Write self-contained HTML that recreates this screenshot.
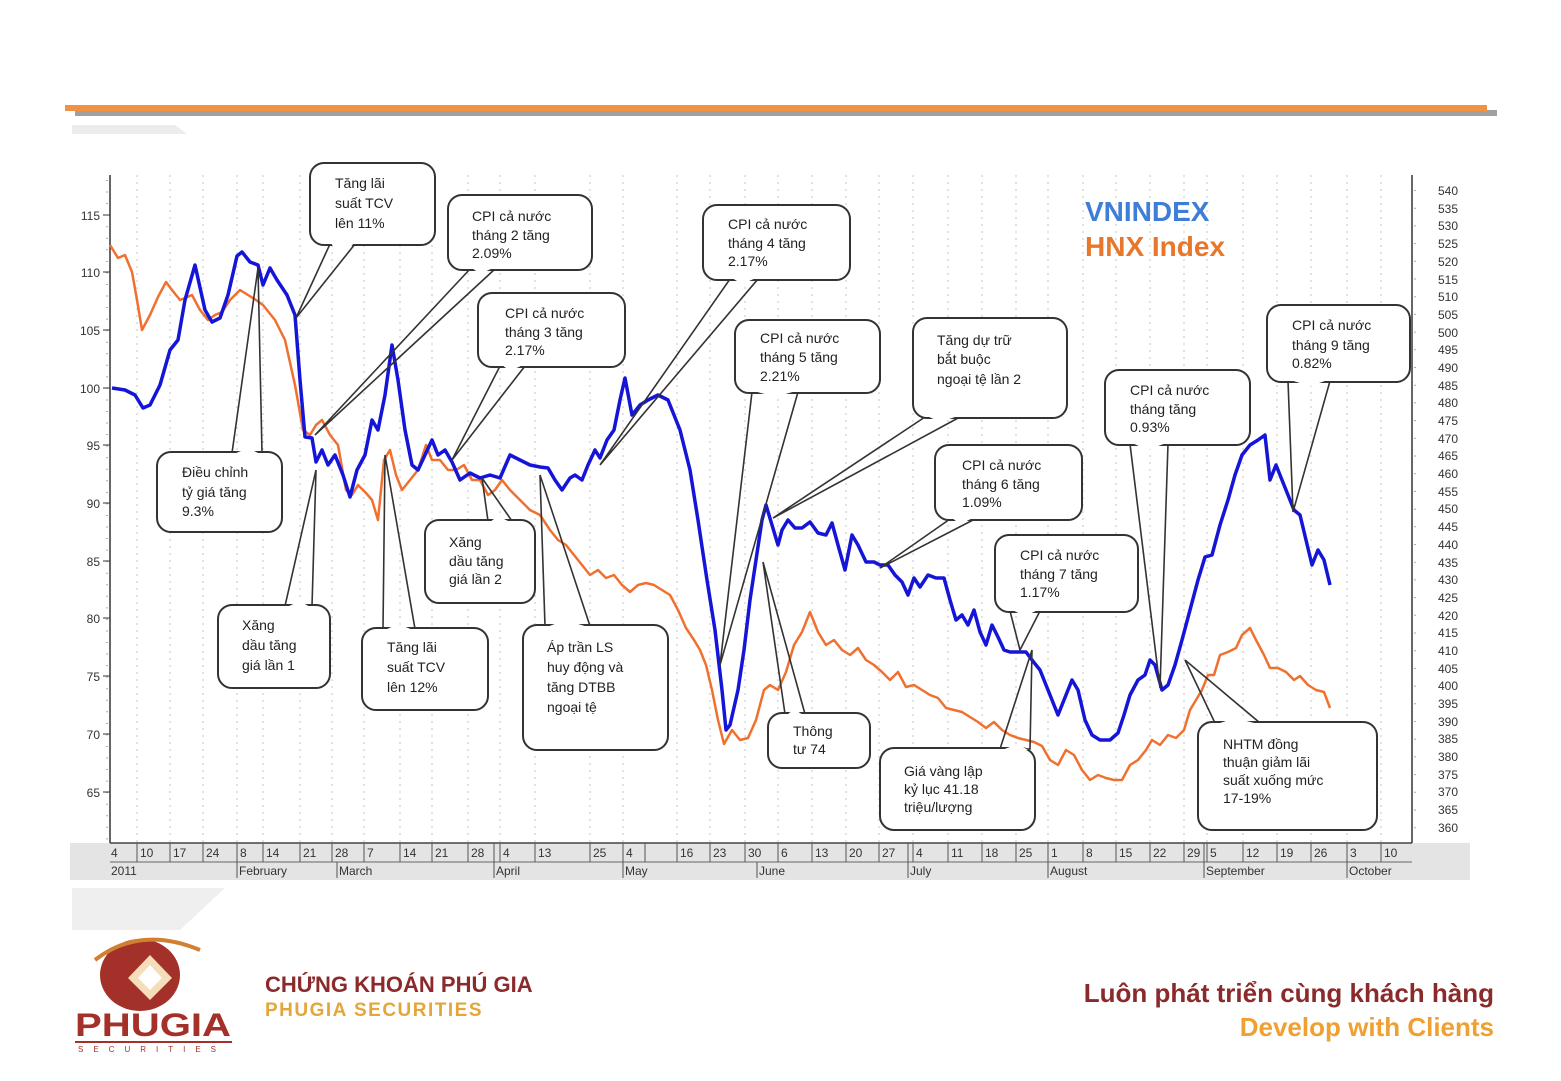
<!DOCTYPE html>
<html><head><meta charset="utf-8"><style>
html,body{margin:0;padding:0;background:#fff}
svg{display:block}
.t{font-family:"Liberation Sans",sans-serif;font-size:14px;fill:#222}
.ax{font-family:"Liberation Sans",sans-serif;font-size:12px;fill:#333}
</style></head><body>
<svg width="1561" height="1081" viewBox="0 0 1561 1081" xmlns="http://www.w3.org/2000/svg">
<rect x="75" y="110" width="1422" height="6" fill="#a0a0a0"/>
<rect x="65" y="105" width="1422" height="6" fill="#f39143"/>
<polygon points="72,125 175,125 187,134 72,134" fill="#ececec"/>
<rect x="70" y="843" width="1400" height="37" fill="#e4e4e4"/>
<polygon points="72,888 225,888 180,930 72,930" fill="#efefef"/>
<g stroke="#c4c4c4" stroke-width="1" stroke-dasharray="2,5">
<line x1="137" y1="175" x2="137" y2="843"/><line x1="170" y1="175" x2="170" y2="843"/><line x1="203" y1="175" x2="203" y2="843"/><line x1="237" y1="175" x2="237" y2="843"/><line x1="263" y1="175" x2="263" y2="843"/><line x1="300" y1="175" x2="300" y2="843"/><line x1="332" y1="175" x2="332" y2="843"/><line x1="364" y1="175" x2="364" y2="843"/><line x1="400" y1="175" x2="400" y2="843"/><line x1="432" y1="175" x2="432" y2="843"/><line x1="468" y1="175" x2="468" y2="843"/><line x1="500" y1="175" x2="500" y2="843"/><line x1="535" y1="175" x2="535" y2="843"/><line x1="590" y1="175" x2="590" y2="843"/><line x1="623" y1="175" x2="623" y2="843"/><line x1="677" y1="175" x2="677" y2="843"/><line x1="710" y1="175" x2="710" y2="843"/><line x1="745" y1="175" x2="745" y2="843"/><line x1="778" y1="175" x2="778" y2="843"/><line x1="812" y1="175" x2="812" y2="843"/><line x1="846" y1="175" x2="846" y2="843"/><line x1="879" y1="175" x2="879" y2="843"/><line x1="913" y1="175" x2="913" y2="843"/><line x1="948" y1="175" x2="948" y2="843"/><line x1="982" y1="175" x2="982" y2="843"/><line x1="1016" y1="175" x2="1016" y2="843"/><line x1="1048" y1="175" x2="1048" y2="843"/><line x1="1083" y1="175" x2="1083" y2="843"/><line x1="1116" y1="175" x2="1116" y2="843"/><line x1="1150" y1="175" x2="1150" y2="843"/><line x1="1184" y1="175" x2="1184" y2="843"/><line x1="1207" y1="175" x2="1207" y2="843"/><line x1="1243" y1="175" x2="1243" y2="843"/><line x1="1277" y1="175" x2="1277" y2="843"/><line x1="1311" y1="175" x2="1311" y2="843"/><line x1="1347" y1="175" x2="1347" y2="843"/><line x1="1381" y1="175" x2="1381" y2="843"/>
</g>
<line x1="110" y1="175" x2="110" y2="843" stroke="#333" stroke-width="1.5"/>
<g stroke="#333" stroke-width="1">
<line x1="103" y1="215" x2="110" y2="215"/><line x1="103" y1="272" x2="110" y2="272"/><line x1="103" y1="330" x2="110" y2="330"/><line x1="103" y1="388" x2="110" y2="388"/><line x1="103" y1="445" x2="110" y2="445"/><line x1="103" y1="503" x2="110" y2="503"/><line x1="103" y1="561" x2="110" y2="561"/><line x1="103" y1="618" x2="110" y2="618"/><line x1="103" y1="676" x2="110" y2="676"/><line x1="103" y1="734" x2="110" y2="734"/><line x1="103" y1="792" x2="110" y2="792"/>
</g>
<g stroke="#555" stroke-width="1" stroke-dasharray="1,10.55">
<line x1="107" y1="180" x2="107" y2="840"/>
</g>
<g stroke="#555" stroke-width="1" stroke-dasharray="1,16.7">
<line x1="1415" y1="190" x2="1415" y2="840"/>
</g>
<g class="ax" text-anchor="end">
<text x="100" y="220">115</text><text x="100" y="277">110</text><text x="100" y="335">105</text><text x="100" y="393">100</text><text x="100" y="450">95</text><text x="100" y="508">90</text><text x="100" y="566">85</text><text x="100" y="623">80</text><text x="100" y="681">75</text><text x="100" y="739">70</text><text x="100" y="797">65</text>
</g>
<line x1="1412" y1="175" x2="1412" y2="843" stroke="#333" stroke-width="1.5"/>
<g class="ax">
<text x="1438" y="195">540</text><text x="1438" y="213">535</text><text x="1438" y="230">530</text><text x="1438" y="248">525</text><text x="1438" y="266">520</text><text x="1438" y="284">515</text><text x="1438" y="301">510</text><text x="1438" y="319">505</text><text x="1438" y="337">500</text><text x="1438" y="354">495</text><text x="1438" y="372">490</text><text x="1438" y="390">485</text><text x="1438" y="407">480</text><text x="1438" y="425">475</text><text x="1438" y="443">470</text><text x="1438" y="460">465</text><text x="1438" y="478">460</text><text x="1438" y="496">455</text><text x="1438" y="513">450</text><text x="1438" y="531">445</text><text x="1438" y="549">440</text><text x="1438" y="567">435</text><text x="1438" y="584">430</text><text x="1438" y="602">425</text><text x="1438" y="620">420</text><text x="1438" y="637">415</text><text x="1438" y="655">410</text><text x="1438" y="673">405</text><text x="1438" y="690">400</text><text x="1438" y="708">395</text><text x="1438" y="726">390</text><text x="1438" y="743">385</text><text x="1438" y="761">380</text><text x="1438" y="779">375</text><text x="1438" y="796">370</text><text x="1438" y="814">365</text><text x="1438" y="832">360</text>
</g>
<line x1="110" y1="843" x2="1412" y2="843" stroke="#444" stroke-width="1.5"/>
<line x1="110" y1="862" x2="1412" y2="862" stroke="#666" stroke-width="1"/>
<g stroke="#555" stroke-width="1">
<line x1="137" y1="843" x2="137" y2="862"/><line x1="170" y1="843" x2="170" y2="862"/><line x1="203" y1="843" x2="203" y2="862"/><line x1="237" y1="843" x2="237" y2="878"/><line x1="263" y1="843" x2="263" y2="862"/><line x1="300" y1="843" x2="300" y2="862"/><line x1="332" y1="843" x2="332" y2="862"/><line x1="337" y1="862" x2="337" y2="878"/><line x1="364" y1="843" x2="364" y2="862"/><line x1="400" y1="843" x2="400" y2="862"/><line x1="432" y1="843" x2="432" y2="862"/><line x1="468" y1="843" x2="468" y2="862"/><line x1="494" y1="843" x2="494" y2="878"/><line x1="500" y1="843" x2="500" y2="862"/><line x1="535" y1="843" x2="535" y2="862"/><line x1="590" y1="843" x2="590" y2="862"/><line x1="623" y1="843" x2="623" y2="878"/><line x1="645" y1="843" x2="645" y2="862"/><line x1="677" y1="843" x2="677" y2="862"/><line x1="710" y1="843" x2="710" y2="862"/><line x1="745" y1="843" x2="745" y2="862"/><line x1="757" y1="862" x2="757" y2="878"/><line x1="778" y1="843" x2="778" y2="862"/><line x1="812" y1="843" x2="812" y2="862"/><line x1="846" y1="843" x2="846" y2="862"/><line x1="879" y1="843" x2="879" y2="862"/><line x1="908" y1="843" x2="908" y2="878"/><line x1="913" y1="843" x2="913" y2="862"/><line x1="948" y1="843" x2="948" y2="862"/><line x1="982" y1="843" x2="982" y2="862"/><line x1="1016" y1="843" x2="1016" y2="862"/><line x1="1048" y1="843" x2="1048" y2="878"/><line x1="1083" y1="843" x2="1083" y2="862"/><line x1="1116" y1="843" x2="1116" y2="862"/><line x1="1150" y1="843" x2="1150" y2="862"/><line x1="1184" y1="843" x2="1184" y2="862"/><line x1="1204" y1="843" x2="1204" y2="878"/><line x1="1207" y1="843" x2="1207" y2="862"/><line x1="1243" y1="843" x2="1243" y2="862"/><line x1="1277" y1="843" x2="1277" y2="862"/><line x1="1311" y1="843" x2="1311" y2="862"/><line x1="1347" y1="843" x2="1347" y2="878"/><line x1="1381" y1="843" x2="1381" y2="862"/>
</g>
<g class="ax">
<text x="111" y="857">4</text><text x="140" y="857">10</text><text x="173" y="857">17</text><text x="206" y="857">24</text><text x="240" y="857">8</text><text x="266" y="857">14</text><text x="303" y="857">21</text><text x="335" y="857">28</text><text x="367" y="857">7</text><text x="403" y="857">14</text><text x="435" y="857">21</text><text x="471" y="857">28</text><text x="503" y="857">4</text><text x="538" y="857">13</text><text x="593" y="857">25</text><text x="626" y="857">4</text><text x="680" y="857">16</text><text x="713" y="857">23</text><text x="748" y="857">30</text><text x="781" y="857">6</text><text x="815" y="857">13</text><text x="849" y="857">20</text><text x="882" y="857">27</text><text x="916" y="857">4</text><text x="951" y="857">11</text><text x="985" y="857">18</text><text x="1019" y="857">25</text><text x="1051" y="857">1</text><text x="1086" y="857">8</text><text x="1119" y="857">15</text><text x="1153" y="857">22</text><text x="1187" y="857">29</text><text x="1210" y="857">5</text><text x="1246" y="857">12</text><text x="1280" y="857">19</text><text x="1314" y="857">26</text><text x="1350" y="857">3</text><text x="1384" y="857">10</text>
<text x="111" y="875">2011</text><text x="239" y="875">February</text><text x="339" y="875">March</text><text x="496" y="875">April</text><text x="625" y="875">May</text><text x="759" y="875">June</text><text x="910" y="875">July</text><text x="1050" y="875">August</text><text x="1206" y="875">September</text><text x="1349" y="875">October</text>
</g>
<polyline fill="none" stroke="#f07030" stroke-width="2.5" stroke-linejoin="round" points="110,245 118,258 125,255 132,272 137,300 142,330 150,315 158,297 166,282 172,290 180,300 185,298 192,295 200,310 208,320 215,315 222,312 230,300 240,290 248,295 256,300 263,305 275,320 285,340 295,385 303,430 310,435 316,425 322,420 330,435 338,445 346,490 352,495 358,485 366,493 372,500 378,520 384,460 390,450 396,475 402,490 410,480 418,470 426,445 432,460 440,460 448,470 456,470 464,465 472,480 480,480 488,495 495,490 502,480 510,490 520,500 530,510 540,515 550,530 558,540 566,545 574,555 582,565 590,575 598,570 606,578 614,575 622,585 630,592 638,585 646,583 654,585 662,590 670,595 678,610 686,628 694,640 700,650 706,665 712,690 718,720 724,744 732,730 740,740 748,738 756,720 764,690 770,685 778,690 786,672 794,645 802,632 810,612 818,632 826,645 834,640 842,650 850,655 858,648 866,660 874,665 882,672 890,680 898,672 906,687 914,685 922,690 930,695 938,698 946,708 954,710 962,712 970,717 978,722 986,728 994,722 1002,730 1010,735 1018,738 1026,740 1034,742 1042,746 1050,760 1058,765 1066,750 1074,755 1082,770 1090,780 1098,775 1106,778 1114,780 1122,780 1130,765 1138,760 1146,750 1152,740 1160,745 1168,735 1176,738 1184,730 1190,710 1196,700 1202,690 1208,675 1214,675 1220,655 1228,652 1236,648 1242,635 1250,628 1256,640 1264,655 1270,668 1278,668 1286,672 1294,680 1300,676 1308,685 1316,690 1324,692 1330,708"/>
<polyline fill="none" stroke="#1515d8" stroke-width="3.5" stroke-linejoin="round" points="112,388 125,390 135,395 143,408 150,405 160,385 170,350 178,340 185,300 195,265 205,310 212,322 220,318 228,295 237,256 242,252 250,262 258,265 263,285 270,268 277,280 287,295 295,315 300,380 305,437 312,438 316,462 322,450 328,465 335,455 343,475 350,497 357,470 365,455 372,420 378,430 385,395 392,345 398,380 405,430 412,465 418,470 425,455 432,440 438,455 445,450 452,462 460,480 470,473 480,478 490,475 500,478 510,455 520,460 530,465 540,467 548,468 555,480 562,490 570,478 575,475 582,480 588,465 595,450 600,458 607,440 614,430 620,400 625,378 632,415 640,405 648,400 658,395 668,400 680,430 690,470 698,520 707,580 715,630 722,690 726,730 730,725 738,690 744,650 750,600 756,560 762,520 766,505 772,525 778,545 782,530 788,520 795,528 802,528 810,522 818,533 826,535 832,523 838,545 845,570 852,535 858,545 866,562 874,562 880,565 888,565 895,575 902,582 908,595 914,578 920,587 928,575 936,578 944,578 950,600 956,620 962,615 968,625 974,610 980,632 986,645 992,625 998,637 1004,650 1010,652 1018,652 1026,652 1032,660 1040,670 1050,695 1058,715 1066,695 1072,680 1078,690 1085,720 1092,735 1100,740 1110,740 1118,733 1124,715 1130,695 1138,680 1145,675 1150,660 1155,665 1162,690 1168,685 1175,665 1182,640 1190,610 1198,580 1205,557 1212,555 1220,525 1228,500 1235,475 1242,455 1250,445 1258,440 1265,435 1270,480 1276,465 1282,480 1288,495 1294,510 1300,515 1306,540 1312,565 1318,550 1324,560 1330,585"/>
<text x="1085" y="221" font-family="Liberation Sans,sans-serif" font-weight="bold" font-size="28" fill="#3d7fd6">VNINDEX</text>
<text x="1085" y="256" font-family="Liberation Sans,sans-serif" font-weight="bold" font-size="28" fill="#e8762b">HNX Index</text>
<g stroke="#333" stroke-width="1.6" fill="none">
<polygon points="330,244 355,244 296,318"/>
<polygon points="470,269 495,269 315,435"/>
<polygon points="500,366 525,366 452,460"/>
<polygon points="730,279 758,279 600,465"/>
<polygon points="752,392 798,392 720,665"/>
<polygon points="925,417 960,417 773,518"/>
<polygon points="950,519 975,519 880,568"/>
<polygon points="1010,611 1040,611 1020,650"/>
<polygon points="1130,444 1168,444 1160,688"/>
<polygon points="1288,381 1330,381 1293,512"/>
<polygon points="232,453 262,453 258,268"/>
<polygon points="285,606 312,606 316,470"/>
<polygon points="383,629 415,629 385,455"/>
<polygon points="488,521 512,521 482,478"/>
<polygon points="545,626 590,626 540,475"/>
<polygon points="785,714 805,714 763,562"/>
<polygon points="1000,749 1030,749 1032,650"/>
<polygon points="1215,723 1260,723 1185,660"/>
</g>
<g stroke="#333" stroke-width="2" fill="#fff">
<rect x="310" y="163" width="125" height="82" rx="14"/>
<rect x="448" y="195" width="144" height="75" rx="14"/>
<rect x="478" y="293" width="147" height="74" rx="14"/>
<rect x="703" y="205" width="147" height="75" rx="14"/>
<rect x="735" y="320" width="145" height="73" rx="14"/>
<rect x="913" y="318" width="154" height="100" rx="14"/>
<rect x="935" y="445" width="147" height="75" rx="14"/>
<rect x="995" y="535" width="143" height="77" rx="14"/>
<rect x="1105" y="370" width="145" height="75" rx="14"/>
<rect x="1267" y="305" width="143" height="77" rx="14"/>
<rect x="157" y="452" width="125" height="80" rx="14"/>
<rect x="218" y="605" width="112" height="83" rx="14"/>
<rect x="362" y="628" width="126" height="82" rx="14"/>
<rect x="425" y="520" width="110" height="83" rx="14"/>
<rect x="523" y="625" width="145" height="125" rx="14"/>
<rect x="768" y="713" width="102" height="55" rx="14"/>
<rect x="880" y="748" width="155" height="82" rx="14"/>
<rect x="1198" y="722" width="179" height="108" rx="14"/>
</g>
<g fill="#fff" stroke="none">
<polygon points="331,243 354,243 348,250 335,250"/>
<polygon points="472,268 493,268 480,274"/>
<polygon points="502,365 523,365 510,371"/>
<polygon points="732,278 756,278 742,284"/>
<polygon points="754,391 796,391 775,397"/>
<polygon points="927,416 958,416 940,422"/>
<polygon points="952,518 973,518 960,524"/>
<polygon points="1012,610 1038,610 1025,616"/>
<polygon points="1132,443 1166,443 1148,450"/>
<polygon points="1290,380 1328,380 1310,386"/>
<polygon points="234,454 260,454 248,448"/>
<polygon points="287,607 310,607 300,601"/>
<polygon points="385,630 413,630 398,624"/>
<polygon points="490,522 510,522 498,516"/>
<polygon points="547,627 588,627 565,620"/>
<polygon points="787,715 803,715 794,709"/>
<polygon points="1002,750 1028,750 1018,744"/>
<polygon points="1217,724 1258,724 1235,718"/>
</g>
<g class="t">
<text x="335" y="188">Tăng lãi</text><text x="335" y="208">suất TCV</text><text x="335" y="228">lên 11%</text>
<text x="472" y="221">CPI cả nước</text><text x="472" y="240">tháng 2 tăng</text><text x="472" y="258">2.09%</text>
<text x="505" y="318">CPI cả nước</text><text x="505" y="337">tháng 3 tăng</text><text x="505" y="355">2.17%</text>
<text x="728" y="229">CPI cả nước</text><text x="728" y="248">tháng 4 tăng</text><text x="728" y="266">2.17%</text>
<text x="760" y="343">CPI cả nước</text><text x="760" y="362">tháng 5 tăng</text><text x="760" y="381">2.21%</text>
<text x="937" y="345">Tăng dự trữ</text><text x="937" y="364">bắt buộc</text><text x="937" y="384">ngoại tệ lần 2</text>
<text x="962" y="470">CPI cả nước</text><text x="962" y="489">tháng 6 tăng</text><text x="962" y="507">1.09%</text>
<text x="1020" y="560">CPI cả nước</text><text x="1020" y="579">tháng 7 tăng</text><text x="1020" y="597">1.17%</text>
<text x="1130" y="395">CPI cả nước</text><text x="1130" y="414">tháng  tăng</text><text x="1130" y="432">0.93%</text>
<text x="1292" y="330">CPI cả nước</text><text x="1292" y="350">tháng 9 tăng</text><text x="1292" y="368">0.82%</text>
<text x="182" y="477">Điều chỉnh</text><text x="182" y="497">tỷ giá tăng</text><text x="182" y="516">9.3%</text>
<text x="242" y="630">Xăng</text><text x="242" y="650">dầu tăng</text><text x="242" y="670">giá lần 1</text>
<text x="387" y="652">Tăng lãi</text><text x="387" y="672">suất TCV</text><text x="387" y="692">lên 12%</text>
<text x="449" y="547">Xăng</text><text x="449" y="566">dầu tăng</text><text x="449" y="584">giá lần 2</text>
<text x="547" y="652">Áp trần LS</text><text x="547" y="672">huy động  và</text><text x="547" y="692">tăng DTBB</text><text x="547" y="712">ngoại tệ</text>
<text x="793" y="736">Thông</text><text x="793" y="754">tư 74</text>
<text x="904" y="776">Giá vàng lập</text><text x="904" y="794">kỷ lục 41.18</text><text x="904" y="812">triệu/lượng</text>
<text x="1223" y="749">NHTM đồng</text><text x="1223" y="767">thuận giảm lãi</text><text x="1223" y="785">suất xuống  mức</text><text x="1223" y="803">17-19%</text>
</g>
<ellipse cx="140" cy="975" rx="40" ry="36" fill="#a4302a"/>
<path d="M95,960 Q140,925 200,950" stroke="#d08030" stroke-width="4" fill="none"/>
<polygon points="150,955 172,978 150,1000 128,978" fill="#f4ddb8"/>
<polygon points="150,965 162,978 150,990 138,978" fill="#fff"/>
<text x="75" y="1036" font-family="Liberation Sans,sans-serif" font-weight="bold" font-size="32" fill="#a4302a" textLength="156" lengthAdjust="spacingAndGlyphs">PHUGIA</text>
<line x1="75" y1="1042" x2="232" y2="1042" stroke="#a4302a" stroke-width="2"/>
<text x="78" y="1052" font-family="Liberation Sans,sans-serif" font-size="8" fill="#a4302a" letter-spacing="10">SECURITIES</text>
<text x="265" y="992" font-family="Liberation Sans,sans-serif" font-weight="bold" font-size="22" fill="#8b2a2a">CHỨNG KHOÁN PHÚ GIA</text>
<text x="265" y="1016" font-family="Liberation Sans,sans-serif" font-weight="bold" font-size="19" fill="#e4a63a" letter-spacing="1.5">PHUGIA SECURITIES</text>
<text x="1494" y="1002" text-anchor="end" font-family="Liberation Sans,sans-serif" font-weight="bold" font-size="26" fill="#8b2a2a">Luôn phát triển cùng khách hàng</text>
<text x="1494" y="1036" text-anchor="end" font-family="Liberation Sans,sans-serif" font-weight="bold" font-size="26" fill="#f0a030">Develop with Clients</text>
</svg>
</body></html>
